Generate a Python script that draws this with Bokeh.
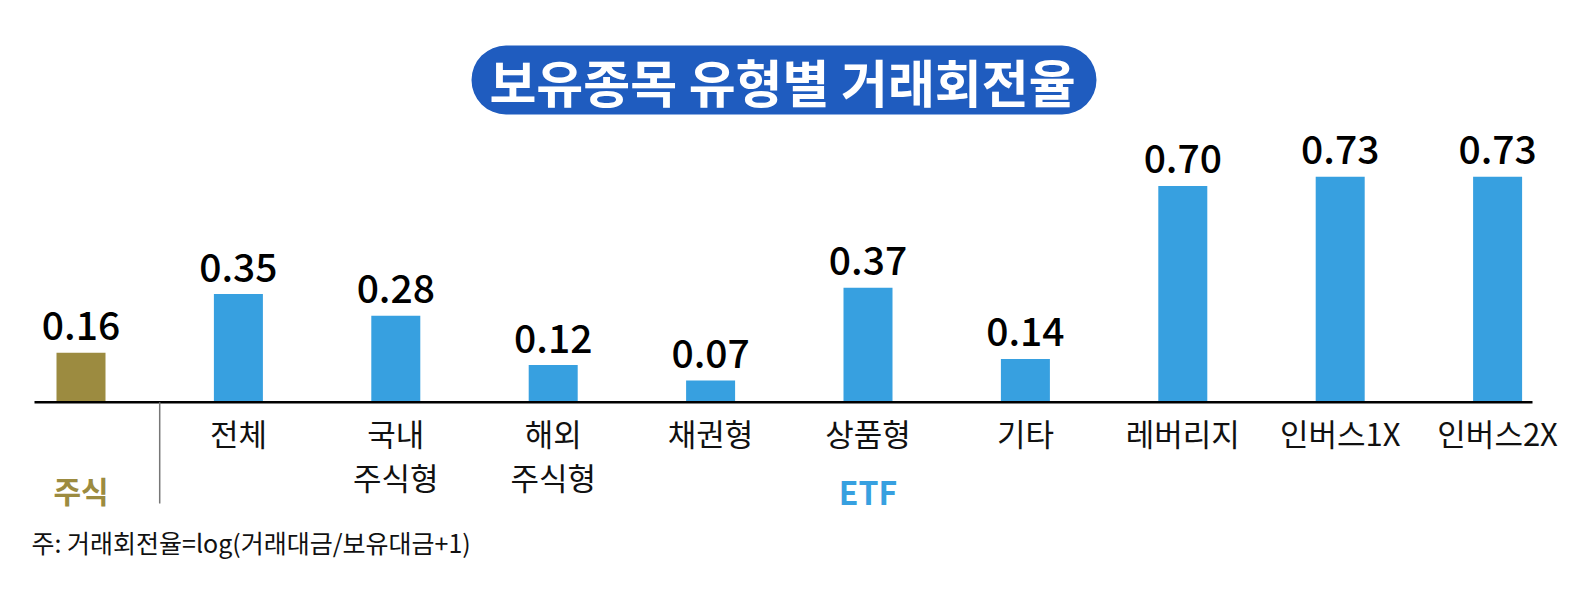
from bokeh.plotting import figure
from bokeh.models import Range1d, BoxAnnotation, ColumnDataSource, Label
from bokeh.core.properties import value
from bokeh.embed import file_html
from bokeh.resources import INLINE

# ---- data ----
categories = ["주식", "전체", "국내\n주식형", "해외\n주식형", "채권형", "상품형", "기타", "레버리지", "인버스1X", "인버스2X"]
values = [0.16, 0.35, 0.28, 0.12, 0.07, 0.37, 0.14, 0.70, 0.73, 0.73]
groups = ["주식", "ETF", "ETF", "ETF", "ETF", "ETF", "ETF", "ETF", "ETF", "ETF"]
labels = ["0.16", "0.35", "0.28", "0.12", "0.07", "0.37", "0.14", "0.70", "0.73", "0.73"]
title_text = "보유종목 유형별 거래회전율"
note_text = "주: 거래회전율=log(거래대금/보유대금+1)"

# ---- layout ----
W, H = 1581, 596
X0_PX, STEP_PX = 80.5, 157.4     # pixel centre of first bar, spacing
BASE_PX, UNIT_PX = 401.7, 309.0  # baseline pixel (from top), pixels per unit

def px2x(px):
    return (px - X0_PX) / STEP_PX

def px2y(py):
    return (BASE_PX - py) / UNIT_PX

BLUE = "#37a0e0"
OLIVE = "#9c8b40"
TITLE_BLUE = "#1f5cbf"
FONT = "Noto Sans CJK KR"
FONT_MED = "Noto Sans CJK KR Medium"

p = figure(width=W, height=H, output_backend="svg", toolbar_location=None,
           x_range=Range1d(px2x(0), px2x(W)), y_range=Range1d(px2y(H), px2y(0)),
           min_border=0, outline_line_color=None)
p.axis.visible = False
p.grid.visible = False
p.background_fill_color = "white"
p.border_fill_color = "white"

xs = list(range(len(categories)))
colors = [OLIVE if g == "주식" else BLUE for g in groups]
src = ColumnDataSource(dict(x=xs, top=values, color=colors, label=labels))

p.vbar(x="x", top="top", bottom=0, width=49 / STEP_PX, fill_color="color", line_color=None, source=src)

# baseline and separator
p.segment(x0=[px2x(34)], y0=[0], x1=[px2x(1532)], y1=[0], line_color="black", line_width=2.5)
sep_x = (xs[0] + xs[1]) / 2
p.segment(x0=[sep_x], y0=[0], x1=[sep_x], y1=[px2y(503)], line_color="#777777", line_width=1.5)

# value labels
p.text(x="x", y="top", text="label", source=src, text_align="center", text_baseline="alphabetic",
       y_offset=-27, text_font=value(FONT_MED), text_font_size="39px",
       text_color="black")

# category labels (ETF items)
line1, line2, cx = [], [], []
for i, c in enumerate(categories):
    if groups[i] == "주식":
        continue
    parts = c.split("\n")
    cx.append(xs[i])
    line1.append(parts[0])
    line2.append(parts[1] if len(parts) > 1 else "")
p.text(x=cx, y=[0] * len(cx), text=line1, text_align="center", text_baseline="middle",
       y_offset=432 - BASE_PX, text_font=value(FONT), text_font_size="31px", text_color="#111111")
p.text(x=cx, y=[0] * len(cx), text=line2, text_align="center", text_baseline="middle",
       y_offset=476 - BASE_PX, text_font=value(FONT), text_font_size="31px", text_color="#111111")

# group labels
stock_x = [xs[i] for i, g in enumerate(groups) if g == "주식"]
etf_x = [xs[i] for i, g in enumerate(groups) if g == "ETF"]
p.text(x=[sum(stock_x) / len(stock_x)], y=[0], text=["주식"], text_align="center", text_baseline="middle",
       y_offset=489 - BASE_PX, text_font=value(FONT), text_font_style="bold", text_font_size="30px",
       text_color=OLIVE)
p.text(x=[sum(etf_x) / len(etf_x)], y=[0], text=["ETF"], text_align="center", text_baseline="middle",
       y_offset=490 - BASE_PX, text_font=value(FONT), text_font_style="bold", text_font_size="32px",
       text_color=BLUE)

# footnote
p.text(x=[px2x(31)], y=[px2y(541)], text=[note_text], text_align="left", text_baseline="middle",
       text_font=value(FONT), text_font_size="25px", text_color="#111111")

# title pill
p.add_layout(BoxAnnotation(left=px2x(471), right=px2x(1096), top=px2y(45), bottom=px2y(114),
                           fill_color=TITLE_BLUE, fill_alpha=1.0, line_color=None, border_radius=35))
p.add_layout(Label(x=px2x(782), y=px2y(80), text=title_text, text_align="center", text_baseline="middle",
                   text_font=FONT, text_font_style="bold", text_font_size="51px", text_color="white"))

open("out.html", "w").write(file_html(p, INLINE))
